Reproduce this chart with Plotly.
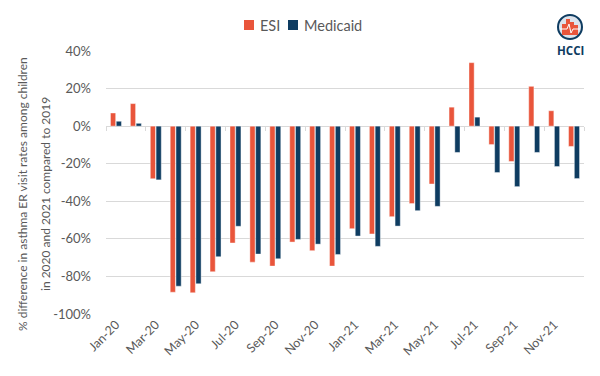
import plotly.graph_objects as go

months = ["Jan-20", "Feb-20", "Mar-20", "Apr-20", "May-20", "Jun-20", "Jul-20", "Aug-20",
          "Sep-20", "Oct-20", "Nov-20", "Dec-20", "Jan-21", "Feb-21", "Mar-21", "Apr-21",
          "May-21", "Jun-21", "Jul-21", "Aug-21", "Sep-21", "Oct-21", "Nov-21", "Dec-21"]
esi = [7, 12, -28, -88.4, -88.7, -77.5, -62.2, -72.4, -74.5, -61.7, -66.3, -74.5,
       -54.6, -57.4, -48.2, -41.2, -30.8, 10.1, 33.8, -9.8, -18.8, 21.2, 8.2, -10.8]
medicaid = [2.6, 1.5, -28.6, -85.2, -83.9, -69.5, -53.3, -68.1, -70.6, -60.3, -62.8, -68.3,
            -58.5, -64, -53.2, -45, -42.7, -14, 4.8, -24.7, -32.2, -14, -21.5, -27.9]
y_ticks = [40, 20, 0, -20, -40, -60, -80, -100]
series_names = ["ESI", "Medicaid"]
y_title_lines = ["% difference in asthma ER visit rates among children",
                 "in 2020 and 2021 compared to 2019"]

ESI_COLOR = "#E9553B"
MED_COLOR = "#0E3C61"
GRID = "#D9D9D9"
TXT = "#595959"
FONT = "Lato"

W, H = 600, 376
L, R, T, B = 106, 16, 51, 62
PW, PH = W - L - R, H - T - B


def px(x):
    return (x - L) / PW


def py(y):
    return (H - B - y) / PH


fig = go.Figure()
fig.add_trace(go.Bar(name=series_names[0], x=months, y=esi, marker_color=ESI_COLOR,
                     marker_line=dict(color="rgba(255,255,255,0.7)", width=0.6)))
fig.add_trace(go.Bar(name=series_names[1], x=months, y=medicaid, marker_color=MED_COLOR,
                     marker_line=dict(color="rgba(255,255,255,0.7)", width=0.6)))
# invisible helper trace to draw tick marks on the zero line
fig.add_trace(go.Scatter(x=months, y=[0] * len(months), xaxis="x2", mode="none",
                         showlegend=False, hoverinfo="skip"))

fig.update_layout(
    width=W, height=H,
    margin=dict(l=L, r=R, t=T, b=B, autoexpand=False),
    paper_bgcolor="white", plot_bgcolor="white",
    barmode="group", bargap=0.42, bargroupgap=0.1,
    font=dict(family=FONT, color=TXT, size=13),
    showlegend=False,
    xaxis=dict(type="category", categoryorder="array", categoryarray=months,
               tickvals=months[::2], ticktext=months[::2], tickangle=-45,
               showgrid=False, zeroline=False, showline=False, ticks="",
               tickfont=dict(size=12.5, color=TXT), range=[-0.5, 23.5]),
    xaxis2=dict(type="category", categoryorder="array", categoryarray=months,
                overlaying="x", anchor="free", position=100 / 140,
                side="bottom", range=[-0.5, 23.5], showticklabels=False, showgrid=False,
                zeroline=False, showline=False, ticks="outside", ticklen=4, tickwidth=1,
                tickcolor=GRID, tickson="boundaries", dtick=2, tick0=0),
    yaxis=dict(range=[-100, 40], tickvals=y_ticks, ticktext=[f"{v}%" for v in y_ticks],
               showgrid=True, gridcolor=GRID, gridwidth=1, zeroline=True, zerolinecolor=GRID,
               zerolinewidth=1, showline=False, ticks="", ticklabelstandoff=14,
               tickfont=dict(size=13, color=TXT)),
)

for line, xc in zip(y_title_lines, [22, 45]):
    fig.add_annotation(
        text=line, xref="paper", yref="paper", x=px(xc), y=py(194), textangle=-90,
        showarrow=False, xanchor="center", yanchor="middle",
        font=dict(size=12, color=TXT, family=FONT))

shapes = []
# legend swatches + labels
for (x0, color), name, tx in zip([(244, ESI_COLOR), (288, MED_COLOR)], series_names, [258, 302]):
    shapes.append(dict(type="rect", xref="paper", yref="paper", x0=px(x0), x1=px(x0 + 10),
                       y0=py(30), y1=py(20), fillcolor=color, line=dict(width=0)))
    fig.add_annotation(text=name, xref="paper", yref="paper", x=px(tx), y=py(25),
                       showarrow=False, xanchor="left", yanchor="middle",
                       font=dict(size=14.5, color=TXT, family=FONT))

# HCCI logo (decorative)
shapes += [
    dict(type="rect", xref="paper", yref="paper", x0=px(551), x1=px(600), y0=py(58), y1=py(44),
         fillcolor="white", line=dict(width=0), layer="above"),
    dict(type="circle", xref="paper", yref="paper", x0=px(558), x1=px(582), y0=py(39), y1=py(15),
         fillcolor="#DCE3EC", line=dict(color=MED_COLOR, width=2), layer="above"),
]
for x0, x1, top in [(562, 566, 24), (566, 570, 19), (570, 574, 22), (574, 578, 25)]:
    shapes.append(dict(type="rect", xref="paper", yref="paper", x0=px(x0), x1=px(x1),
                       y0=py(35), y1=py(top), fillcolor=ESI_COLOR, line=dict(width=0),
                       layer="above"))
shapes.append(dict(type="path", xref="paper", yref="paper",
                   path=f"M {px(560)} {py(29)} L {px(567)} {py(29)} L {px(569)} {py(24)} "
                        f"L {px(571)} {py(33)} L {px(573)} {py(29)} L {px(580)} {py(29)}",
                   line=dict(color="white", width=1), layer="above"))
fig.update_layout(shapes=shapes)
fig.add_annotation(text="<b>HCCI</b>", xref="paper", yref="paper", x=px(570), y=py(50),
                   showarrow=False, xanchor="center", yanchor="middle",
                   font=dict(size=11.5, color=MED_COLOR, family="Open Sans"))

fig.write_html("out.html", config={"displayModeBar": False},
               post_script="document.body.style.margin='0';")
